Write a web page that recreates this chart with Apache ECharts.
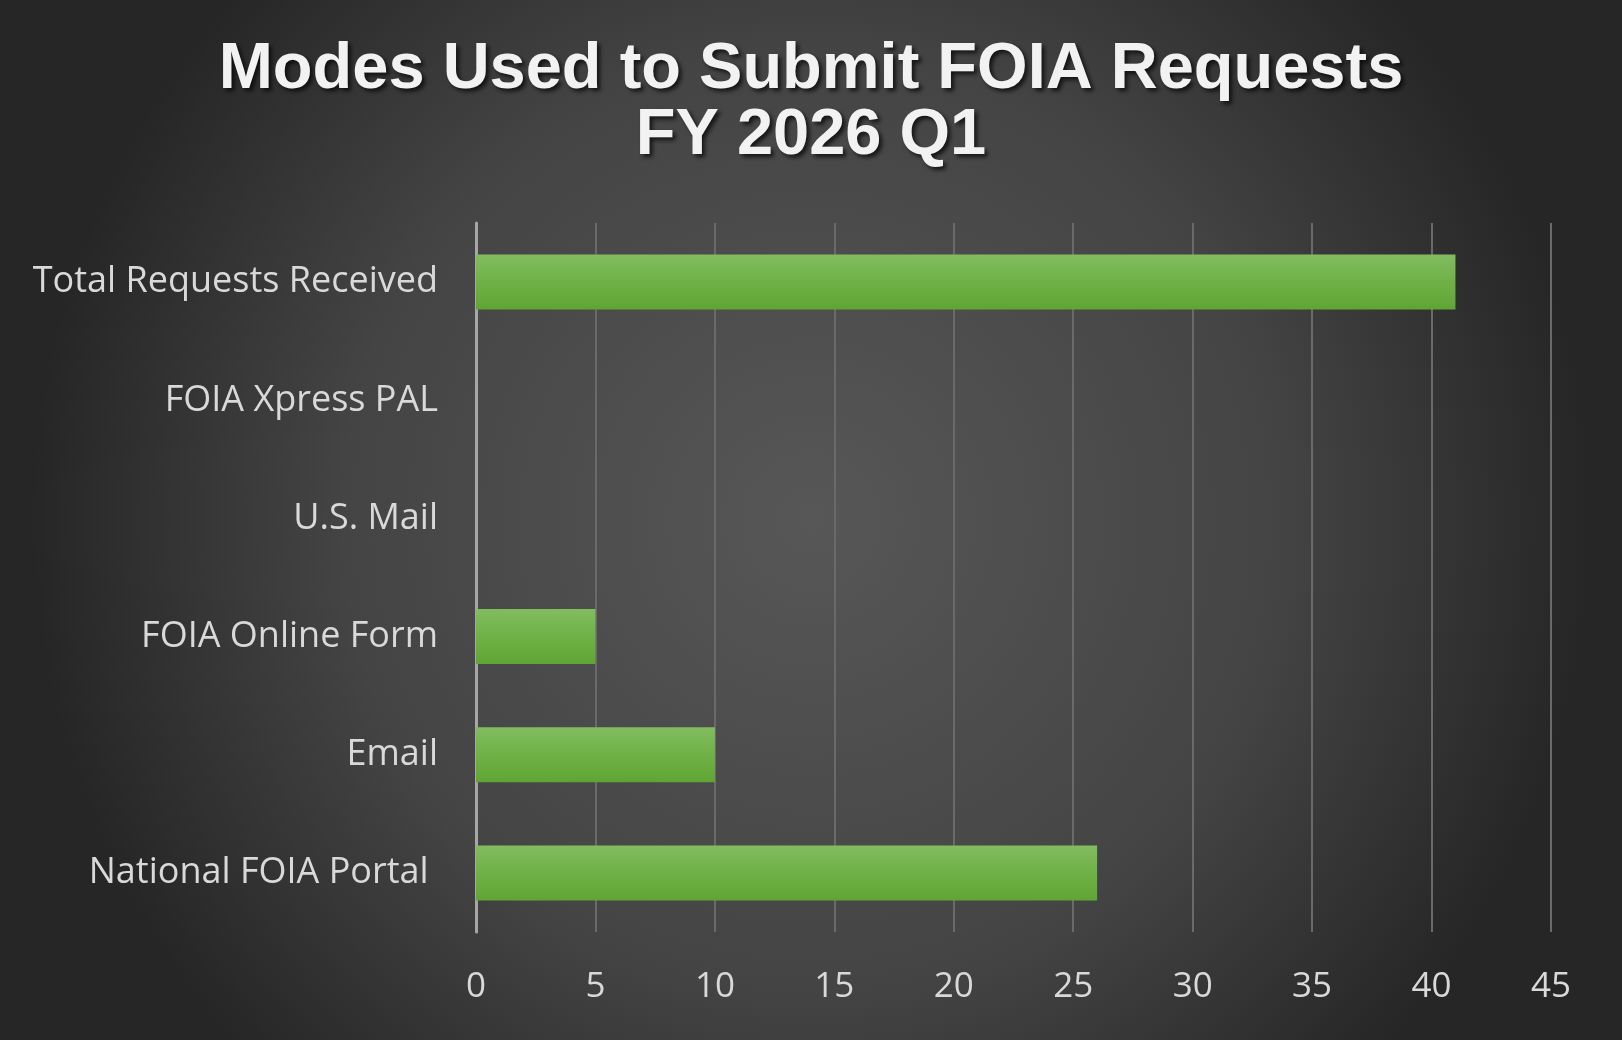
<!DOCTYPE html>
<html><head><meta charset="utf-8">
<script src="https://cdn.jsdelivr.net/npm/echarts@6/dist/echarts.min.js"></script>
<style>html,body{margin:0;padding:0;background:#3a3a3a}#c{width:1622px;height:1040px}</style>
</head><body><div id="c"></div>
<script>
const categories = ['National FOIA Portal ', 'Email', 'FOIA Online Form', 'U.S. Mail', 'FOIA Xpress PAL', 'Total Requests Received'];
const requestCounts = [26, 10, 5, 0, 0, 41];
const titleLines = ['Modes Used to Submit FOIA Requests', 'FY 2026 Q1'];
const xTicks = {min: 0, max: 45, interval: 5};

const chart = echarts.init(document.getElementById('c'));
chart.setOption({
  backgroundColor: {type: 'radial', x: 0.5, y: 0.5, r: 0.75,
    colorStops: [{offset: 0, color: '#575757'}, {offset: 0.6, color: '#444444'}, {offset: 1, color: '#262626'}]},
  title: {
    text: titleLines.join('\n'), left: 'center', top: 32,
    textStyle: {fontFamily: 'Liberation Sans', fontWeight: 'bold', fontSize: 65, lineHeight: 66, color: '#f2f2f2',
      textShadowColor: 'rgba(0,0,0,0.7)', textShadowBlur: 4, textShadowOffsetX: 3, textShadowOffsetY: 3}
  },
  grid: {left: 476, right: 71, top: 223, bottom: 108},
  xAxis: {
    type: 'value', min: xTicks.min, max: xTicks.max, interval: xTicks.interval,
    axisLine: {show: false}, axisTick: {show: false},
    splitLine: {lineStyle: {color: '#6a6a6a', width: 2}},
    axisLabel: {color: '#d9d9d9', fontFamily: 'Open Sans', fontSize: 35, margin: 38}
  },
  yAxis: {
    type: 'category', data: categories,
    axisLine: {lineStyle: {color: '#a6a6a6', width: 3}}, axisTick: {show: false},
    axisLabel: {color: '#d9d9d9', fontFamily: 'Open Sans', fontSize: 36, margin: 38}
  },
  series: [{
    type: 'bar', data: requestCounts, barWidth: 55,
    itemStyle: {
      color: {type: 'linear', x: 0, y: 0, x2: 0, y2: 1,
        colorStops: [{offset: 0, color: '#82bc60'}, {offset: 0.5, color: '#6fb146'}, {offset: 1, color: '#5fa534'}]},
      shadowColor: 'rgba(0,0,0,0.6)', shadowBlur: 10, shadowOffsetX: 3, shadowOffsetY: 6
    }
  }]
});
</script></body></html>
